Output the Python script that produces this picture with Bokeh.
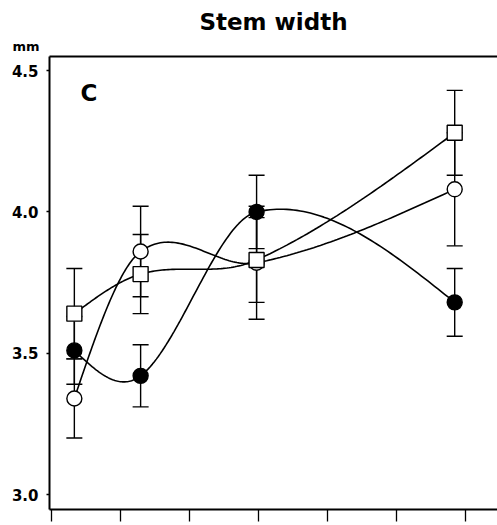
import numpy as np
from bokeh.plotting import figure
from bokeh.models import (Range1d, FixedTicker, Whisker, TeeHead, ColumnDataSource, Label,
                          LinearAxis, PrintfTickFormatter, CustomJSTickFormatter, Title)
from bokeh.embed import file_html
from bokeh.resources import INLINE

# sampling occasions (x in tick units)
x_pos = [0.33, 1.29, 2.97, 5.84]

# filled circles
filled_mean = [3.51, 3.42, 4.00, 3.68]
filled_err = [0.12, 0.11, 0.13, 0.12]
# open circles
open_mean = [3.34, 3.86, 3.82, 4.08]
open_err = [0.14, 0.16, 0.20, 0.20]
# open squares
square_mean = [3.64, 3.78, 3.83, 4.28]
square_err = [0.16, 0.14, 0.15, 0.15]

y_ticks = [3.0, 3.5, 4.0, 4.5]
x_ticks = [0, 1, 2, 3, 4, 5, 6]


def smooth_curve(xs, ys, n=60):
    """Catmull-Rom style Hermite curve through the points (natural ends)."""
    xs = np.asarray(xs, float)
    ys = np.asarray(ys, float)
    k = len(xs)
    m = np.zeros(k)
    for i in range(1, k - 1):
        m[i] = (ys[i + 1] - ys[i - 1]) / (xs[i + 1] - xs[i - 1])
    s0 = (ys[1] - ys[0]) / (xs[1] - xs[0])
    s1 = (ys[-1] - ys[-2]) / (xs[-1] - xs[-2])
    m[0] = (3 * s0 - m[1]) / 2
    m[-1] = (3 * s1 - m[-2]) / 2
    out_x, out_y = [], []
    for j in range(k - 1):
        h = xs[j + 1] - xs[j]
        t = np.linspace(0, 1, n)
        h00 = 2 * t ** 3 - 3 * t ** 2 + 1
        h10 = t ** 3 - 2 * t ** 2 + t
        h01 = -2 * t ** 3 + 3 * t ** 2
        h11 = t ** 3 - t ** 2
        out_x.extend(xs[j] + t * h)
        out_y.extend(h00 * ys[j] + h10 * h * m[j] + h01 * ys[j + 1] + h11 * h * m[j + 1])
    return out_x, out_y


p = figure(width=497, height=525, output_backend="svg", toolbar_location=None,
           x_range=Range1d(-0.03, 6.46), y_range=Range1d(2.947, 4.55),
           min_border_left=49, min_border_right=0, min_border_top=56, min_border_bottom=16)
p.outline_line_color = None
p.grid.visible = False
p.background_fill_color = "white"

# axes
p.yaxis.ticker = FixedTicker(ticks=y_ticks)
p.yaxis.formatter = PrintfTickFormatter(format="%.1f")
p.yaxis.major_label_text_font = "DejaVu Sans"
p.yaxis.major_label_text_font_style = "bold"
p.yaxis.major_label_text_font_size = "15px"
p.yaxis.major_label_text_color = "black"
p.yaxis.major_tick_out = 3
p.yaxis.major_tick_in = 0
p.yaxis.minor_tick_line_color = None
p.yaxis.axis_line_width = 2
p.yaxis.major_tick_line_width = 1.5
p.yaxis.major_label_standoff = 8

p.xaxis.ticker = FixedTicker(ticks=x_ticks)
p.xaxis.formatter = CustomJSTickFormatter(code="return ''")
p.xaxis.major_tick_out = 12
p.xaxis.major_tick_in = 0
p.xaxis.minor_tick_line_color = None
p.xaxis.axis_line_width = 2
p.xaxis.major_tick_line_width = 1.3

top = LinearAxis(ticker=FixedTicker(ticks=[]), formatter=CustomJSTickFormatter(code="return ''"),
                 axis_line_width=2, major_tick_line_color=None, minor_tick_line_color=None,
                 major_label_standoff=0)

p.title = None
mm_title = Title(text="mm", align="left", offset=-37, text_font="DejaVu Sans",
                 text_font_style="bold", text_font_size="13px", text_color="black", standoff=5)
main_title = Title(text="Stem width", align="center", offset=-25, text_font="DejaVu Sans",
                   text_font_style="bold", text_font_size="23px", text_color="black", standoff=0)
p.above = [top, mm_title, main_title]

series = [
    (filled_mean, filled_err, "circle", "black"),
    (open_mean, open_err, "circle", "white"),
    (square_mean, square_err, "square", "white"),
]

for mean, err, marker, fill in series:
    xx, yy = smooth_curve(x_pos, mean)
    p.line(xx, yy, line_color="black", line_width=1.6)

for mean, err, marker, fill in series:
    src = ColumnDataSource(dict(x=x_pos, y=mean,
                                lo=[m - e for m, e in zip(mean, err)],
                                hi=[m + e for m, e in zip(mean, err)]))
    w = Whisker(source=src, base="x", lower="lo", upper="hi", line_color="black", line_width=1.4,
                upper_head=TeeHead(size=16, line_width=1.4, line_color="black"),
                lower_head=TeeHead(size=16, line_width=1.4, line_color="black"))
    p.add_layout(w)

for mean, err, marker, fill in series:
    p.scatter(x_pos, mean, marker=marker, size=15, fill_color=fill,
              line_color="black", line_width=1.4)

p.add_layout(Label(x=0.42, y=4.42, text="C", text_font="DejaVu Sans", text_color="black",
                   text_font_style="bold", text_font_size="23px", text_align="left",
                   text_baseline="middle"))

open("out.html", "w").write(file_html(p, INLINE))
